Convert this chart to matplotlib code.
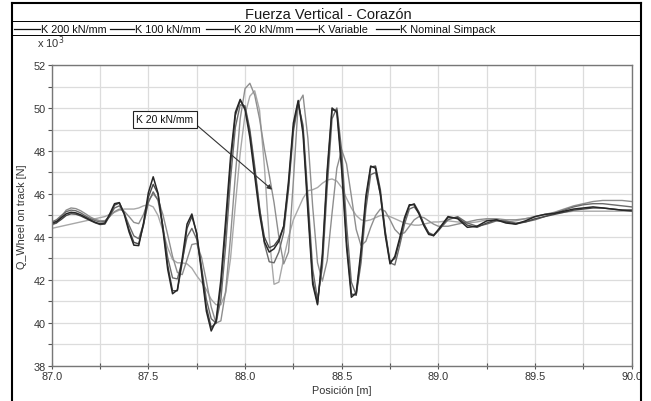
import numpy as np
import matplotlib
matplotlib.use('Agg')
import matplotlib.pyplot as plt
from matplotlib.lines import Line2D
from matplotlib.ticker import MultipleLocator, FormatStrFormatter

plt.rcParams['font.family'] = ['Liberation Sans', 'DejaVu Sans']

# sample positions along the track [m]
pos = np.concatenate([87.0 + 0.025 * np.arange(81), 89.05 + 0.05 * np.arange(20)])

# Q wheel on track [kN]
k200 = [44.65, 44.72, 44.9, 45.08, 45.15, 45.12, 45.03, 44.91, 44.79, 44.68,
        44.61, 44.65, 45.07, 45.55, 45.6, 45.06, 44.24, 43.62, 43.6, 44.66,
        46.06, 46.8, 46.03, 44.36, 42.5, 41.36, 41.54, 43.0, 44.6, 45.07,
        44.15, 42.35, 40.55, 39.63, 40.1, 42.0, 44.8, 47.7, 49.8, 50.4,
        49.92, 48.63, 46.85, 45.08, 43.78, 43.3, 43.45, 43.8, 44.5, 46.6,
        49.3, 50.35, 48.8, 45.2, 41.8, 40.85, 43.2, 47.1, 50.0, 49.8,
        47.1, 43.55, 41.2, 41.4, 43.4, 45.9, 47.3, 47.2, 45.98, 44.1,
        42.75, 43.1, 43.95, 44.9, 45.5, 45.5, 45.07, 44.53, 44.12, 44.07,
        44.35,
        44.95, 44.85, 44.45, 44.5, 44.75, 44.8, 44.65, 44.6, 44.75, 44.95,
        45.05, 45.1, 45.2, 45.3, 45.35, 45.4, 45.35, 45.3, 45.25, 45.25]

k100 = [44.6, 44.66, 44.82, 45.0, 45.08, 45.06, 44.98, 44.87, 44.76, 44.66,
        44.58, 44.6, 44.98, 45.48, 45.58, 45.12, 44.35, 43.75, 43.68, 44.55,
        45.85, 46.45, 46.0, 44.5, 42.7, 41.5, 41.5, 42.8, 44.4, 44.95,
        44.2, 42.5, 40.75, 39.8, 40.0, 41.7, 44.4, 47.4, 49.65, 50.35,
        50.0, 48.85, 47.1, 45.3, 44.0, 43.5, 43.6, 43.9, 44.5, 46.4,
        49.1, 50.3, 49.0, 45.5, 42.0, 40.9, 43.0, 46.9, 49.9, 49.9,
        47.4, 43.8, 41.35, 41.3, 43.2, 45.7, 47.25, 47.3, 46.2, 44.3,
        42.85, 43.0, 43.85, 44.8, 45.45, 45.55, 45.15, 44.6, 44.18, 44.05,
        44.3,
        44.9, 44.9, 44.55, 44.45, 44.65, 44.8, 44.7, 44.6, 44.7, 44.85,
        44.95, 45.05, 45.15, 45.25, 45.3, 45.35, 45.35, 45.3, 45.25, 45.2]

k20 = [44.55, 44.65, 44.95, 45.25, 45.35, 45.32, 45.22, 45.08, 44.93, 44.82,
       44.76, 44.76, 44.95, 45.18, 45.3, 45.2, 44.95, 44.68, 44.62, 45.05,
       45.7, 46.0, 45.75, 45.05, 44.1, 43.1, 42.35, 42.25, 42.95, 43.65,
       43.7, 43.05, 41.95, 40.75, 40.0, 40.1, 41.5, 44.0, 46.9, 49.5,
       50.9, 51.15, 50.6, 49.5, 48.1, 46.9, 45.6, 44.0, 42.75, 43.3,
       46.6, 50.2, 50.6, 48.6, 45.4, 42.8, 41.95, 42.9, 45.1, 47.2,
       48.05, 47.4, 45.9, 44.35, 43.6, 43.8, 44.45, 45.0, 45.3, 45.2,
       44.8, 44.35, 44.12, 44.2, 44.5, 44.8, 44.95, 44.9, 44.75, 44.6,
       44.5,
       44.5, 44.6, 44.7, 44.8, 44.85, 44.85, 44.8, 44.8, 44.85, 44.95,
       45.05, 45.15, 45.3, 45.45, 45.55, 45.65, 45.7, 45.7, 45.7, 45.65]

k_variable = [44.4, 44.45, 44.5, 44.55, 44.6, 44.65, 44.7, 44.75, 44.8, 44.85,
              44.9, 44.95, 45.05, 45.15, 45.25, 45.3, 45.3, 45.3, 45.35, 45.45,
              45.5, 45.4, 45.0, 44.3, 43.5, 42.95, 42.8, 42.8, 42.75, 42.55,
              42.2, 41.9, 41.55, 41.1, 40.85, 40.85, 41.4, 43.0, 45.5, 47.9,
              49.7, 50.55, 50.8, 49.9, 47.3, 44.0, 41.8, 41.9, 43.0, 44.0,
              44.8, 45.3, 45.8, 46.15, 46.2, 46.3, 46.5, 46.65, 46.7, 46.6,
              46.3, 45.8, 45.35, 45.0, 44.8, 44.75, 44.8, 44.9, 45.0, 45.0,
              44.95, 44.85, 44.75, 44.65, 44.6, 44.55, 44.55, 44.6, 44.65, 44.7,
              44.7,
              44.75, 44.7, 44.65, 44.7, 44.8, 44.75, 44.7, 44.75, 44.85, 44.95,
              45.05, 45.1, 45.15, 45.2, 45.2, 45.2, 45.2, 45.2, 45.2, 45.2]

k_nominal = [44.7, 44.8, 45.0, 45.18, 45.25, 45.22, 45.12, 44.98, 44.86, 44.76,
             44.7, 44.72, 44.98, 45.35, 45.45, 45.1, 44.55, 44.05, 43.92, 44.6,
             45.6, 46.1, 45.7, 44.5, 43.05, 42.1, 42.05, 42.9, 44.0, 44.4,
             43.9, 42.6, 41.1, 40.2, 40.0, 41.1, 43.6, 46.7, 49.1, 50.15,
             50.1, 49.0, 47.3, 45.4, 43.7, 42.85, 42.8, 43.3, 44.2, 46.2,
             48.9, 50.2, 49.2, 45.9, 42.5, 41.1, 42.6, 46.3, 49.5, 50.0,
             48.0, 44.6, 41.9, 41.3, 42.8, 45.3, 46.9, 47.0, 46.0, 44.2,
             42.8, 42.7, 43.6, 44.6, 45.3, 45.4, 45.1, 44.6, 44.2, 44.1,
             44.3,
             44.8, 44.95, 44.65, 44.5, 44.6, 44.75, 44.75, 44.65, 44.7, 44.8,
             44.95, 45.1, 45.25, 45.4, 45.5, 45.55, 45.55, 45.5, 45.45, 45.4]

labels = ['K 200 kN/mm', 'K 100 kN/mm', 'K 20 kN/mm', 'K Variable', 'K Nominal Simpack']

W, H = 651, 402


def fx(px):
    return px / W


def fy(py):
    return 1 - py / H


fig = plt.figure(figsize=(W / 100, H / 100), dpi=100)
ax = fig.add_axes([fx(51.7), fy(367), 580 / W, 301 / H])

# light curves first, dark ones on top
ax.plot(pos, k_variable, color='#a8a8a8', lw=1.0)
ax.plot(pos, k20, color='#8e8e8e', lw=1.0)
ax.plot(pos, k_nominal, color='#6a6a6a', lw=1.0)
ax.plot(pos, k100, color='#474747', lw=1.0)
ax.plot(pos, k200, color='#262626', lw=1.1)

ax.set_xlim(87.0, 90.0)
ax.set_ylim(38, 52)
ax.xaxis.set_major_locator(MultipleLocator(0.5))
ax.xaxis.set_minor_locator(MultipleLocator(0.25))
ax.yaxis.set_major_locator(MultipleLocator(2))
ax.yaxis.set_minor_locator(MultipleLocator(1))
ax.xaxis.set_major_formatter(FormatStrFormatter('%.1f'))
ax.yaxis.set_major_formatter(FormatStrFormatter('%d'))
ax.grid(which='both', color='#dcdcdc', lw=0.9)
ax.set_axisbelow(True)
ax.tick_params(which='both', length=3, width=0.8, color='#555555',
               labelsize=7.8, labelcolor='#333333', pad=1.5)
ax.tick_params(axis='x', which='both', direction='inout', length=4)
for sp in ax.spines.values():
    sp.set_color('#777777')
    sp.set_linewidth(1.0)

ax.set_xlabel('Posición [m]', fontsize=7.8, color='#333333')
ax.xaxis.set_label_coords(0.5, -0.063)
ax.set_ylabel('Q_Wheel on track [N]', fontsize=7.8, color='#333333')
ax.yaxis.set_label_coords(-0.042, 0.5)

ax.annotate('K 20 kN/mm', xy=(88.14, 46.2), xytext=(87.586, 49.47),
            ha='center', va='center', fontsize=7.5, color='#111111',
            bbox=dict(boxstyle='square,pad=0.35', fc='white', ec='#222222', lw=0.8),
            arrowprops=dict(arrowstyle='-|>', color='#333333', lw=0.8,
                            mutation_scale=7, shrinkA=0, shrinkB=0,
                            relpos=(1.0, 0.2)))

fig.text(fx(37), fy(48), r'x 10$^3$', fontsize=8, color='#333333', va='baseline')

# outer frame, title band and legend row
frame_kw = dict(transform=fig.transFigure, color='black')
fig.add_artist(Line2D([fx(11.5), fx(11.5)], [fy(4), fy(402)], lw=1.5, **frame_kw))
fig.add_artist(Line2D([fx(640.5), fx(640.5)], [fy(4), fy(402)], lw=1.5, **frame_kw))
fig.add_artist(Line2D([fx(11.5), fx(640.5)], [fy(4), fy(4)], lw=1.5, **frame_kw))
fig.add_artist(Line2D([fx(11.5), fx(640.5)], [fy(21.5), fy(21.5)], lw=0.7, **frame_kw))
fig.add_artist(Line2D([fx(11.5), fx(640.5)], [fy(36), fy(36)], lw=0.7, **frame_kw))

fig.text(fx(328), fy(19.3), 'Fuerza Vertical - Corazón', ha='center', va='baseline',
         fontsize=10.5, color='#1a1a1a')

leg_lines = [(14, 40), (110, 134), (206, 233), (296, 317), (376, 399)]
leg_text = [41, 135, 234, 318, 400]
for (a, b), tx, lab in zip(leg_lines, leg_text, labels):
    fig.add_artist(Line2D([fx(a), fx(b)], [fy(29.5), fy(29.5)], lw=0.9,
                          transform=fig.transFigure, color='#111111'))
    fig.text(fx(tx), fy(33), lab, fontsize=7.8, va='baseline', color='#111111')

fig.savefig('out.png', dpi=100)
